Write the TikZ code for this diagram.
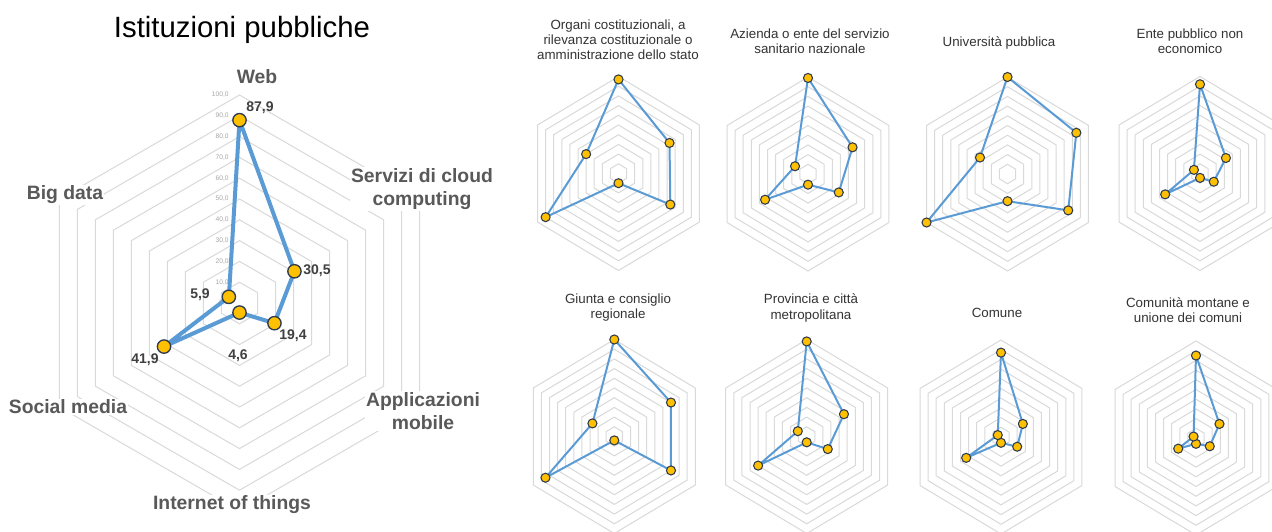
\documentclass[tikz,border=0pt]{standalone}
\usepackage{fontspec}
\setmainfont{Liberation Sans}
\usepackage{tikz}

\definecolor{ringgray}{HTML}{D9D9D9}
\definecolor{lineblue}{HTML}{5B9BD5}
\definecolor{dotgold}{HTML}{FFC000}
\definecolor{dotedge}{HTML}{2E3B4E}
\definecolor{axisgray}{HTML}{595959}
\definecolor{valgray}{HTML}{404040}
\definecolor{tickgray}{HTML}{A6A6A6}
\definecolor{titlegray}{HTML}{333333}

\tikzset{
	ring/.style={draw=ringgray, line width=.75pt},
	series/.style={draw=lineblue, line width=3pt, line join=round},
	smallseries/.style={draw=lineblue, line width=1.5pt, line join=round},
	bigdot/.style={circle, fill=dotgold, draw=dotedge, line width=1pt, inner sep=0pt, minimum size=10pt},
	smalldot/.style={circle, fill=dotgold, draw=dotedge, line width=.8pt, inner sep=0pt, minimum size=6.8pt},
	axislabel/.style={font=\bfseries\fontsize{14.5}{17.3}\selectfont, text=axisgray, align=center, fill=white, inner sep=1pt},
	vallabel/.style={font=\bfseries\fontsize{10.5}{12}\selectfont, text=valgray, inner sep=0pt},
	ticklabel/.style={font=\fontsize{5}{6}\selectfont, text=tickgray, anchor=east, inner sep=0pt, xshift=-8pt},
	paneltitle/.style={font=\fontsize{10}{11.3}\selectfont, text=titlegray, align=center}
}

\begin{document}
\begin{tikzpicture}[x=.75pt, y=-.75pt]
	\fill[white] (0,0) rectangle (1272,532);
	\useasboundingbox (0,0) rectangle (1272,532);

	% big radar
	\begin{scope}[shift={(239.5,303)}, xscale=2.08, yscale=-2.08]
		\foreach \r in {10,20,...,100}
			\draw[ring] (90:\r) -- (30:\r) -- (-30:\r) -- (-90:\r) -- (-150:\r) -- (150:\r) -- cycle;
		\foreach \r in {0,10,...,100}
			\node[ticklabel] (tick\r) at (0,\r) {\r,0};
		\coordinate (web) at (90:87.9);
		\coordinate (cloud) at (30:30.5);
		\coordinate (apps) at (-30:19.4);
		\coordinate (iot) at (-90:4.6);
		\coordinate (social) at (-150:41.9);
		\coordinate (bigdata) at (150:5.9);
		\draw[series] (web) -- (cloud) -- (apps) -- (iot) -- (social) -- (bigdata) -- cycle;
		\foreach \p in {web,cloud,apps,iot,social,bigdata}
			\node[bigdot] (dot-\p) at (\p) {};
	\end{scope}

	\node (title) at (242,30) {\fontsize{22}{26}\selectfont Istituzioni pubbliche};

	\node[axislabel] (ax-web) at (257,77) {Web};
	\node[axislabel] (ax-cloud) at (422,189) {Servizi di cloud\\computing};
	\node[axislabel] (ax-apps) at (423,411) {Applicazioni\\mobile};
	\node[axislabel] (ax-iot) at (232,505) {Internet of things};
	\node[axislabel] (ax-social) at (68,407) {Social media};
	\node[axislabel] (ax-bigdata) at (65,195) {Big data};

	\node[vallabel] (v-web) at (260,108) {87,9};
	\node[vallabel] (v-cloud) at (317,271) {30,5};
	\node[vallabel] (v-apps) at (293,336) {19,4};
	\node[vallabel] (v-iot) at (238,356) {4,6};
	\node[vallabel] (v-social) at (145,360) {41,9};
	\node[vallabel] (v-bigdata) at (200,295) {5,9};

	% small radars: centre, then web / cloud / apps / iot / social / big data
	\foreach \cx/\cy/\a/\b/\c/\d/\e/\f [count=\n] in {
		618.5/173.5/97/63/64/10/90/40,
		808/174/99/55/38/11/53/16,
		1007.5/174/100/85/75/28/100/34,
		1200/173.5/92/32/17/4.5/43/7.5,
		614.3/436.5/100/70/70/4/85/27,
		806.7/436.5/98/46/26/6/60/11,
		1001/437/87/27/20/6/43/4,
		1196/438/85/29/17/6/22/3}
	{
		\begin{scope}[shift={(\cx,\cy)}, xscale=.935, yscale=-.97]
			\foreach \r in {10,20,...,100}
				\draw[ring] (90:\r) -- (30:\r) -- (-30:\r) -- (-90:\r) -- (-150:\r) -- (150:\r) -- cycle;
			\draw[smallseries] (90:\a) -- (30:\b) -- (-30:\c) -- (-90:\d) -- (-150:\e) -- (150:\f) -- cycle;
			\foreach \ang/\v in {90/\a,30/\b,-30/\c,-90/\d,-150/\e,150/\f}
				\node[smalldot] (p\n-\ang) at (\ang:\v) {};
		\end{scope}
	}

	\node[paneltitle] (t-organi) at (618,40) {Organi costituzionali, a\\rilevanza costituzionale o\\amministrazione dello stato};
	\node[paneltitle] (t-azienda) at (810,41) {Azienda o ente del servizio\\sanitario nazionale};
	\node[paneltitle] (t-universita) at (999,43) {Università pubblica};
	\node[paneltitle] (t-ente) at (1190,41.5) {Ente pubblico non\\economico};
	\node[paneltitle] (t-giunta) at (618,308) {Giunta e consiglio\\regionale};
	\node[paneltitle] (t-provincia) at (811,308) {Provincia e città\\metropolitana};
	\node[paneltitle] (t-comune) at (997,313) {Comune};
	\node[paneltitle] (t-comunita) at (1188,310.5) {Comunità montane e\\unione dei comuni};
\end{tikzpicture}
\end{document}
